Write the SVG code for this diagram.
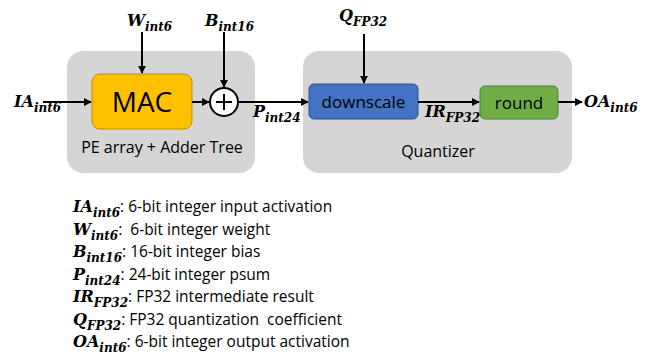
<svg xmlns="http://www.w3.org/2000/svg" width="653" height="354" viewBox="0 0 653 354">
<style>
.grp{fill:#d5d5d5}
.sym{font-family:"DejaVu Serif","Liberation Serif",serif;font-weight:bold;font-style:italic;font-size:16px;fill:#000}
.sub{font-size:12px}
.txt{font-family:"Open Sans","Noto Sans",sans-serif;fill:#000}
.cn{stroke:#000;stroke-width:2;fill:none;marker-end:url(#ah)}
.leg{font-family:"Open Sans","Noto Sans",sans-serif;font-size:15.5px;fill:#000;font-style:normal;font-weight:normal;white-space:pre}
</style>
<defs>
<marker id="ah" viewBox="0 0 10 10" refX="9" refY="5" markerWidth="4" markerHeight="4" orient="auto" markerUnits="strokeWidth">
<path d="M0,0 L10,5 L0,10 z" fill="#000"/>
</marker>
</defs>
<rect id="pe" class="grp" x="67" y="51" width="188" height="122" rx="16"/>
<rect id="quant" class="grp" x="303" y="51" width="269" height="122" rx="16"/>
<text class="txt" x="162" y="153" font-size="16" text-anchor="middle">PE array + Adder Tree</text>
<text class="txt" x="438" y="157" font-size="16" text-anchor="middle">Quantizer</text>
<g id="mac">
<rect x="92" y="74" width="100" height="55" rx="8" fill="#ffc000" stroke="#bf9000" stroke-width="1"/>
<text class="txt" x="142" y="112" font-size="28" text-anchor="middle">MAC</text>
</g>
<g id="adder">
<circle cx="224" cy="102" r="14" fill="#fff" stroke="#000" stroke-width="2"/>
<path d="M224,94 V110 M216,102 H232" stroke="#000" stroke-width="2"/>
</g>
<g id="downscale">
<rect x="309" y="84" width="109" height="35" rx="5" fill="#4472c4" stroke="#2f528f" stroke-width="1"/>
<text class="txt" x="363.5" y="108" font-size="17" text-anchor="middle">downscale</text>
</g>
<g id="round">
<rect x="480" y="86" width="78" height="33" rx="5" fill="#70ad47" stroke="#507e32" stroke-width="1"/>
<text class="txt" x="519" y="109" font-size="17" text-anchor="middle">round</text>
</g>
<g id="connectors">
<line class="cn" x1="43" y1="102" x2="91" y2="102"/>
<line class="cn" x1="142" y1="32" x2="142" y2="73"/>
<line class="cn" x1="192" y1="102" x2="209" y2="102"/>
<line class="cn" x1="224" y1="32" x2="224" y2="87"/>
<line class="cn" x1="238" y1="102" x2="308" y2="102"/>
<line class="cn" x1="364" y1="34" x2="364" y2="83"/>
<line class="cn" x1="418" y1="102" x2="479" y2="102"/>
<line class="cn" x1="558" y1="102" x2="582" y2="102"/>
</g>
<g id="labels">
<text class="sym" x="127" y="26">W<tspan class="sub" dy="5">int6</tspan></text>
<text class="sym" x="205" y="26">B<tspan class="sub" dy="5">int16</tspan></text>
<text class="sym" x="14" y="107">IA<tspan class="sub" dy="5">int6</tspan></text>
<text class="sym" x="253" y="117">P<tspan class="sub" dy="5">int24</tspan></text>
<text class="sym" x="339" y="21">Q<tspan class="sub" dy="5">FP32</tspan></text>
<text class="sym" x="425" y="117">IR<tspan class="sub" dy="5">FP32</tspan></text>
<text class="sym" x="584" y="107">OA<tspan class="sub" dy="5">int6</tspan></text>
</g>
<g id="legend">
<text class="sym" x="73" y="212">IA<tspan class="sub" dy="5">int6</tspan><tspan class="leg" dy="-5">: 6-bit integer input activation</tspan></text>
<text class="sym" x="73" y="234.5">W<tspan class="sub" dy="5">int6</tspan><tspan class="leg" dy="-5">:  6-bit integer weight</tspan></text>
<text class="sym" x="73" y="257">B<tspan class="sub" dy="5">int16</tspan><tspan class="leg" dy="-5">: 16-bit integer bias</tspan></text>
<text class="sym" x="73" y="279.5">P<tspan class="sub" dy="5">int24</tspan><tspan class="leg" dy="-5">: 24-bit integer psum</tspan></text>
<text class="sym" x="73" y="302">IR<tspan class="sub" dy="5">FP32</tspan><tspan class="leg" dy="-5">: FP32 intermediate result</tspan></text>
<text class="sym" x="73" y="324.5">Q<tspan class="sub" dy="5">FP32</tspan><tspan class="leg" dy="-5">: FP32 quantization  coefficient</tspan></text>
<text class="sym" x="73" y="347">OA<tspan class="sub" dy="5">int6</tspan><tspan class="leg" dy="-5">: 6-bit integer output activation</tspan></text>
</g>
</svg>
